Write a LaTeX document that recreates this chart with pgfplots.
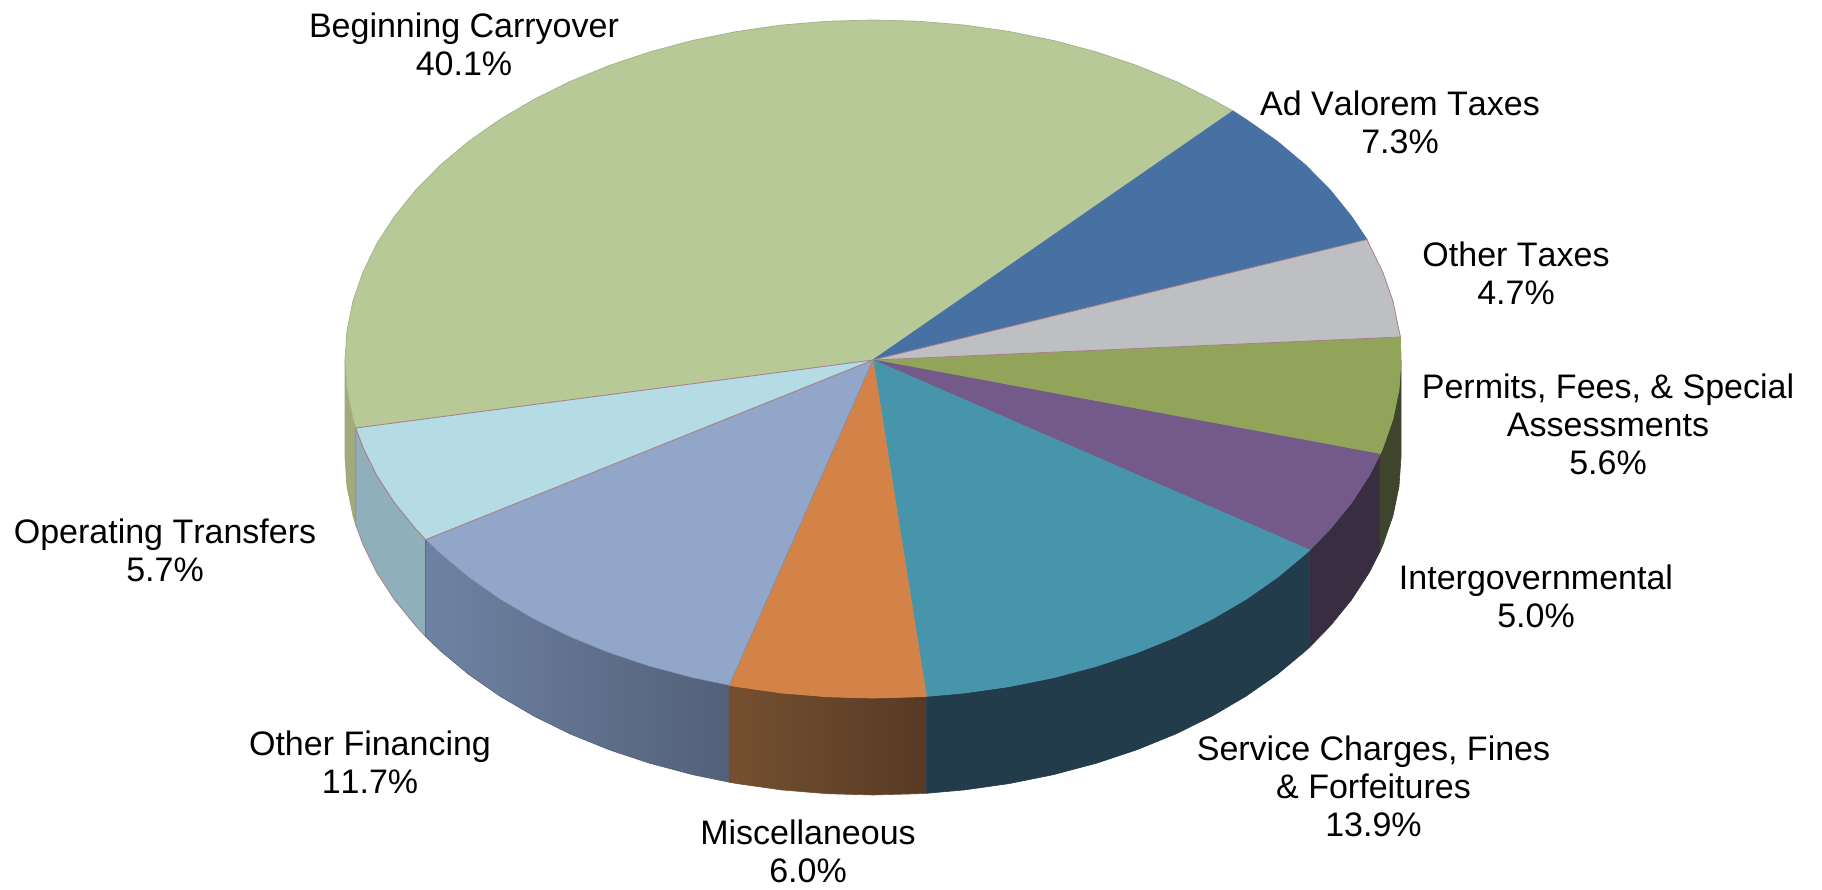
\documentclass[border=0pt]{standalone}
\usepackage{fontspec}
\setmainfont[Kerning=Off]{Liberation Sans}
\usepackage{pgfplots}
\pgfplotsset{compat=1.18}
\definecolor{bc}{HTML}{B8C998}
\definecolor{bcl}{HTML}{A5B58A}
\definecolor{bcw}{HTML}{A0AA7D}
\definecolor{adv}{HTML}{4770A3}
\definecolor{oth}{HTML}{BDBFC3}
\definecolor{per}{HTML}{91A45A}
\definecolor{perw}{HTML}{3F442C}
\definecolor{int}{HTML}{745A8A}
\definecolor{intw}{HTML}{392E41}
\definecolor{svc}{HTML}{4795AB}
\definecolor{svcw}{HTML}{233C4B}
\definecolor{mis}{HTML}{D48348}
\definecolor{ofn}{HTML}{91A6C9}
\definecolor{opt}{HTML}{B5DBE5}
\definecolor{optw}{HTML}{8FAFBB}
\definecolor{edge}{HTML}{A88088}
\definecolor{ofnL}{HTML}{6E83A3}
\definecolor{ofnR}{HTML}{536079}
\definecolor{misL}{HTML}{755030}
\definecolor{misR}{HTML}{573A24}
\begin{document}
\begin{tikzpicture}
\useasboundingbox (0,0) rectangle (1822pt,889pt);
\begin{axis}[at={(0,0)},anchor=south west,width=1822pt,height=889pt,scale only axis,
  xmin=0,xmax=1822,ymin=0,ymax=889,y dir=reverse,hide axis,clip=false]
% ---- side walls ----
\addplot[fill=bcw,draw=bcw,line width=0.8pt] coordinates {(345,360)(347,389.5)(353,418.7)(355.8,428)(355.8,525)(353,515.7)(347,486.5)(345,457)(345,360)};
\addplot[fill=optw,draw=edge,line width=0.8pt] coordinates {(355.8,428)(363,447.5)(376.8,475.6)(394.5,502.8)(415.8,529)(425.7,539.6)(425.7,636.6)(415.8,626)(394.5,599.8)(376.8,572.6)(363,544.5)(355.8,525)(355.8,428)};
\addplot[left color=ofnL,right color=ofnR,draw=ofnR,line width=0.6pt] coordinates {(425.7,539.6)(440.5,553.9)(468.6,577.3)(499.7,599)(533.6,618.9)(570.1,636.9)(609,652.7)(649.9,666.3)(692.4,677.6)(729.2,685.2)(729.2,782.2)(692.4,774.6)(649.9,763.3)(609,749.7)(570.1,733.9)(533.6,715.9)(499.7,696)(468.6,674.3)(440.5,650.9)(425.7,636.6)(425.7,539.6)};
\addplot[left color=misL,right color=misR,draw=misL,line width=0.6pt] coordinates {(729.2,685.2)(736.4,686.5)(781.3,692.9)(827,696.7)(873,698)(919,696.7)(926.4,696.3)(926.4,793.3)(919,793.7)(873,795)(827,793.7)(781.3,789.9)(736.4,783.5)(729.2,782.2)(729.2,685.2)};
\addplot[fill=svcw,draw=svcw,line width=0.6pt] coordinates {(926.4,696.3)(964.7,692.9)(1009.6,686.5)(1053.6,677.6)(1096.1,666.3)(1137,652.7)(1175.9,636.9)(1212.4,618.9)(1246.3,599)(1277.4,577.3)(1305.5,553.9)(1309.7,550)(1309.7,647)(1305.5,650.9)(1277.4,674.3)(1246.3,696)(1212.4,715.9)(1175.9,733.9)(1137,749.7)(1096.1,763.3)(1053.6,774.6)(1009.6,783.5)(964.7,789.9)(926.4,793.3)(926.4,696.3)};
\addplot[fill=intw,draw=intw,line width=0.6pt] coordinates {(1309.7,550)(1330.2,529)(1351.5,502.8)(1369.2,475.6)(1380,454.3)(1380,551.3)(1369.2,572.6)(1351.5,599.8)(1330.2,626)(1309.7,647)(1309.7,550)};
\addplot[fill=perw,draw=perw,line width=0.6pt] coordinates {(1380,454.3)(1383,447.5)(1393,418.7)(1399,389.5)(1401,360)(1401,457)(1399,486.5)(1393,515.7)(1383,544.5)(1380,551.3)(1380,454.3)};
% ---- top faces: Beginning Carryover 40.1 ----
\addplot[fill=bc,draw=bcl,line width=0.8pt] coordinates {(873,360)(1233,111)(1212.4,99.6)(1175.9,81.5)(1137,65.6)(1096.1,51.9)(1053.6,40.5)(1009.6,31.6)(964.7,25.1)(919,21.3)(873,20)(827,21.3)(781.3,25.1)(736.4,31.6)(692.4,40.5)(649.9,51.9)(609,65.6)(570.1,81.5)(533.6,99.6)(499.7,119.6)(468.6,141.4)(440.5,165)(415.8,190)(394.5,216.4)(376.8,243.7)(363,272)(353,301)(347,330.5)(345,360)(347,389.5)(353,418.7)(355.8,428)(873,360)};
% Ad Valorem 7.3
\addplot[fill=adv,draw=adv,line width=0.8pt] coordinates {(873,360)(1367,239.5)(1351.5,216.4)(1330.2,190)(1305.5,165)(1277.4,141.4)(1246.3,119.6)(1233,111)(873,360)};
% Permits 5.6
\addplot[fill=per,draw=per,line width=0.8pt] coordinates {(873,360)(1380,454.3)(1383,447.5)(1393,418.7)(1399,389.5)(1401,360)(1400.5,337)(873,360)};
% Other Taxes 4.7
\addplot[fill=oth,draw=edge,line width=0.8pt] coordinates {(873,360)(1400.5,337)(1399,330.5)(1393,301.3)(1383,272.5)(1369.2,244.4)(1367,239.5)(873,360)};
% Intergovernmental 5.0
\addplot[fill=int,draw=int,line width=0.8pt] coordinates {(873,360)(1309.7,550)(1330.2,529)(1351.5,502.8)(1369.2,475.6)(1380,454.3)(873,360)};
% Service 13.9
\addplot[fill=svc,draw=svc,line width=0.8pt] coordinates {(873,360)(926.4,696.3)(964.7,692.9)(1009.6,686.5)(1053.6,677.6)(1096.1,666.3)(1137,652.7)(1175.9,636.9)(1212.4,618.9)(1246.3,599)(1277.4,577.3)(1305.5,553.9)(1309.7,550)(873,360)};
% Miscellaneous 6.0
\addplot[fill=mis,draw=mis,line width=0.8pt] coordinates {(873,360)(729.2,685.2)(736.4,686.5)(781.3,692.9)(827,696.7)(873,698)(919,696.7)(926.4,696.3)(873,360)};
% Other Financing 11.7
\addplot[fill=ofn,draw=ofn!85!black,line width=0.6pt] coordinates {(873,360)(425.7,539.6)(440.5,553.9)(468.6,577.3)(499.7,599)(533.6,618.9)(570.1,636.9)(609,652.7)(649.9,666.3)(692.4,677.6)(729.2,685.2)(873,360)};
% Operating Transfers 5.7
\addplot[fill=opt,draw=edge,line width=0.8pt] coordinates {(873,360)(355.8,428)(363,447.5)(376.8,475.6)(394.5,502.8)(415.8,529)(425.7,539.6)(873,360)};
% ---- labels ----
\tikzset{lab/.style={font=\fontsize{34}{38}\selectfont,align=center,inner sep=0pt,text=black}}
\node[lab] at (axis cs:464,44) {Beginning Carryover\\40.1\%};
\node[lab] at (axis cs:1400,122.6) {Ad Valorem Taxes\\7.3\%};
\node[lab] at (axis cs:1516,273) {Other Taxes\\4.7\%};
\node[lab] at (axis cs:1608,424) {Permits, Fees, \& Special\\Assessments\\5.6\%};
\node[lab] at (axis cs:1536,596) {Intergovernmental\\5.0\%};
\node[lab] at (axis cs:1373.5,786) {Service Charges, Fines\\\& Forfeitures\\13.9\%};
\node[lab] at (axis cs:808,851) {Miscellaneous\\6.0\%};
\node[lab] at (axis cs:370,762.5) {Other Financing\\11.7\%};
\node[lab] at (axis cs:165,550) {Operating Transfers\\5.7\%};
\end{axis}
\end{tikzpicture}
\end{document}
